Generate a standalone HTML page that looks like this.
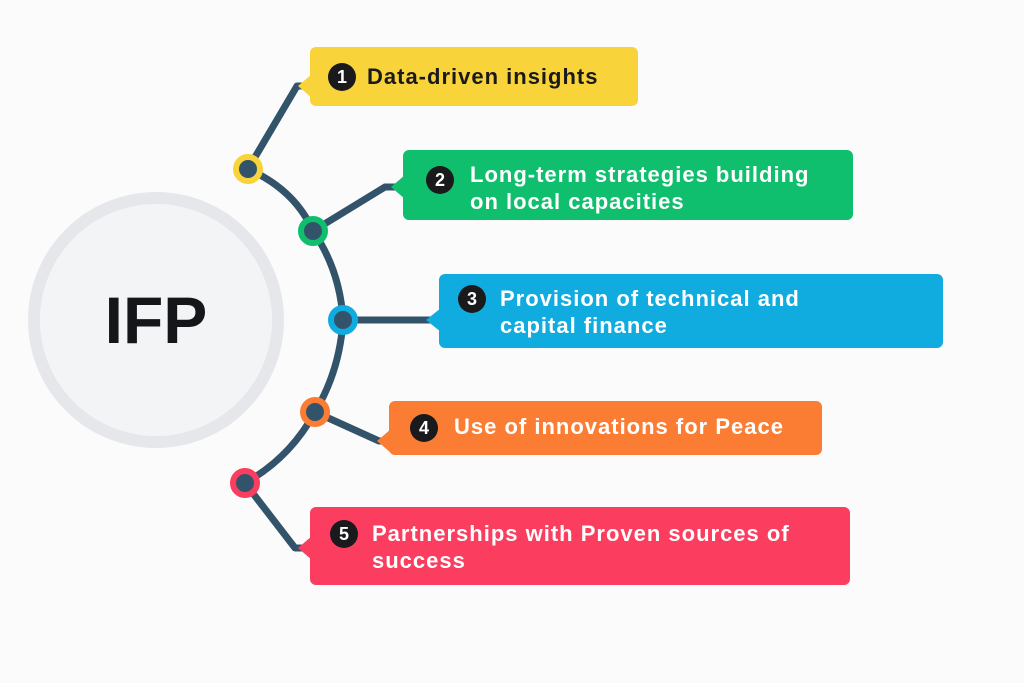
<!DOCTYPE html>
<html><head><meta charset="utf-8"><style>
html,body{margin:0;padding:0;background:#fbfbfc;}
body{width:1024px;height:683px;overflow:hidden;position:relative;font-family:"Liberation Sans",sans-serif;}
svg{position:absolute;left:0;top:0;}
.t{position:absolute;font-weight:bold;font-size:22px;letter-spacing:1px;line-height:27px;color:#fff;white-space:nowrap;}
</style></head><body>
<svg width="1024" height="683" viewBox="0 0 1024 683">
<circle cx="156" cy="320" r="122" fill="#f3f4f6" stroke="#e6e7ea" stroke-width="12"/>
<text x="156" y="343" text-anchor="middle" font-family="Liberation Sans" font-weight="bold" font-size="66" fill="#15161a">IFP</text>
<g fill="none" stroke="#33536b" stroke-width="7" stroke-linejoin="round" stroke-linecap="round">
<path d="M248 169 Q295 190 313 231 Q340 270 343 320 Q340 370 315 412 Q290 458 245 483"/>
<path d="M248 169 L297 86 L312 86"/>
<path d="M313 231 L385 187 L400 187"/>
<path d="M343 320 L435 320"/>
<path d="M315 412 L379 441 L390 441"/>
<path d="M245 483 L295 548 L310 548"/>
</g>
<rect x="310" y="47" width="328" height="59" rx="6" fill="#f8d33a"/>
<path d="M312 74 L298 86 L312 98Z" fill="#f8d33a"/>
<rect x="403" y="150" width="450" height="70" rx="6" fill="#10bf6e"/>
<path d="M405 175 L391 187 L405 199Z" fill="#10bf6e"/>
<rect x="439" y="274" width="504" height="74" rx="6" fill="#10acdf"/>
<path d="M441 308 L426 320 L441 332Z" fill="#10acdf"/>
<rect x="389" y="401" width="433" height="54" rx="6" fill="#fb7d33"/>
<path d="M391 429 L377 441 L391 453Z" fill="#fb7d33"/>
<rect x="310" y="507" width="540" height="78" rx="6" fill="#fb3d5f"/>
<path d="M312 536 L298 548 L312 560Z" fill="#fb3d5f"/>
<g stroke-width="6">
<circle cx="248" cy="169" r="12" fill="#33536b" stroke="#f8d33a"/>
<circle cx="313" cy="231" r="12" fill="#33536b" stroke="#10bf6e"/>
<circle cx="343" cy="320" r="12" fill="#33536b" stroke="#10acdf"/>
<circle cx="315" cy="412" r="12" fill="#33536b" stroke="#fb7d33"/>
<circle cx="245" cy="483" r="12" fill="#33536b" stroke="#fb3d5f"/>
</g>
<g fill="#1a1a1c">
<circle cx="342" cy="77" r="14"/><circle cx="440" cy="180" r="14"/><circle cx="472" cy="299" r="14"/><circle cx="424" cy="428" r="14"/><circle cx="344" cy="534" r="14"/>
</g>
<g fill="#fff" font-family="Liberation Sans" font-weight="bold" font-size="18" text-anchor="middle">
<text x="342" y="83">1</text><text x="440" y="186">2</text><text x="472" y="305">3</text><text x="424" y="434">4</text><text x="344" y="540">5</text>
</g>
</svg>
<div class="t" style="left:367px;top:63px;color:#1a1a1c;">Data-driven insights</div>
<div class="t" style="left:470px;top:161px;">Long-term strategies building<br>on local capacities</div>
<div class="t" style="left:500px;top:285px;">Provision of technical and<br>capital finance</div>
<div class="t" style="left:454px;top:413px;">Use of innovations for Peace</div>
<div class="t" style="left:372px;top:520px;">Partnerships with Proven sources of<br>success</div>
</body></html>
